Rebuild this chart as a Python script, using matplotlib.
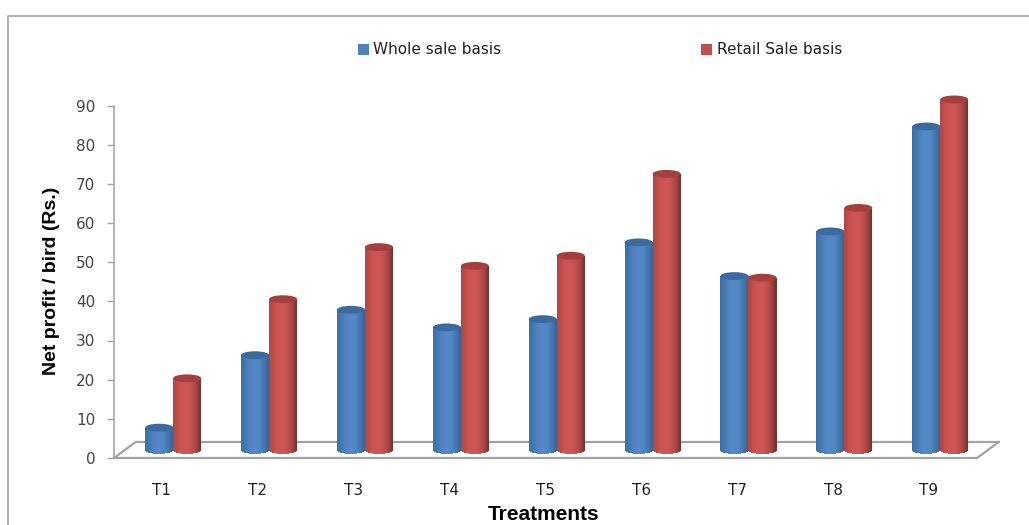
import numpy as np
import matplotlib
matplotlib.use('Agg')
import matplotlib.pyplot as plt
from matplotlib.patches import Ellipse, Patch
from matplotlib.lines import Line2D

# values
treatments = ['T1', 'T2', 'T3', 'T4', 'T5', 'T6', 'T7', 'T8', 'T9']
whole_sale = [5.7, 24.2, 35.8, 31.3, 33.4, 53, 44.4, 55.8, 82.6]
retail_sale = [18.3, 38.5, 51.8, 47, 49.6, 70.5, 44, 61.8, 89.5]
y_ticks = [0, 10, 20, 30, 40, 50, 60, 70, 80, 90]

W, H = 1029, 525
GRAY = '#a3a3a3'

# 3d look, in data units
base = 2.05      # floor centre line above the axis
shift = 0.117    # bars sit in the middle of the floor depth
bar_w = 0.292
cap_h = 2.0
depth_x = 22 / 95.9
depth_y = 4.15

blue_shades = ['#3f6da3', '#4779b4', '#4f84c1', '#5589c7', '#5086c4', '#4577ae', '#38659a']
red_shades = ['#b04745', '#c24f4d', '#cc5655', '#cd5755', '#c4504e', '#a84543', '#7a3230']


def shade(colors, n):
    pos = np.linspace(0, 1, len(colors))
    rgb = np.array([matplotlib.colors.to_rgb(c) for c in colors])
    t = np.linspace(0, 1, n)
    return np.column_stack([np.interp(t, pos, rgb[:, i]) for i in range(3)])


def cylinder(ax, x, value, colors, cap_color):
    n = 28
    edges = np.linspace(x - bar_w / 2, x + bar_w / 2, n + 1)
    mids = (edges[:-1] + edges[1:]) / 2
    shades = shade(colors, n)
    t = (mids - x) / (bar_w / 2)
    bottoms = base - cap_h / 2 * np.sqrt(1 - t ** 2)
    tops = base + value
    ax.bar(mids, tops - bottoms, bottom=bottoms, width=bar_w / n * 1.15,
           color=shades, linewidth=0, zorder=3, clip_on=False)
    cap = Ellipse((x, tops), bar_w, cap_h, facecolor=cap_color, edgecolor='none', zorder=4, clip_on=False)
    ax.add_patch(cap)


fig = plt.figure(figsize=(W / 100, H / 100), dpi=100)
ax = fig.add_axes([114 / W, 1 - 458 / H, 863 / W, 352.5 / H])
x = np.arange(len(treatments))

ax.set_xlim(-0.5, 8.5)
ax.set_ylim(0, 90)
for s in ['top', 'right', 'bottom']:
    ax.spines[s].set_visible(False)
ax.spines['left'].set_color(GRAY)
ax.spines['left'].set_linewidth(1.1)

# floor of the 3d chart
floor = dict(color=GRAY, lw=1.6, clip_on=False, zorder=1, solid_capstyle='round')
ax.plot([-0.5, 8.5], [0, 0], **floor)
ax.plot([-0.5 + depth_x, 8.5 + depth_x], [depth_y, depth_y], **floor)
ax.plot([-0.5, -0.5 + depth_x], [0, depth_y], **floor)
ax.plot([8.5, 8.5 + depth_x], [0, depth_y], **floor)

for i in x:
    cylinder(ax, i + shift - bar_w / 2, whole_sale[i], blue_shades, '#3b6a9f')
    cylinder(ax, i + shift + bar_w / 2, retail_sale[i], red_shades, '#a43f3d')

ax.set_xticks(x)
ax.set_xticklabels(treatments, fontsize=11, color='#222222')
ax.tick_params(axis='x', length=0, pad=18)
ax.set_yticks(y_ticks)
ax.tick_params(axis='y', length=5, width=1, color=GRAY, pad=8.5, labelsize=11, labelcolor='#444444')

fig.text(52 / W, 1 - 281 / H, 'Net profit / bird (Rs.)', rotation=90, ha='center', va='center',
         family='Liberation Sans', fontweight='bold', fontsize=14)
fig.text(544 / W, 1 - 515 / H, 'Treatments', ha='center', va='center',
         family='Liberation Sans', fontweight='bold', fontsize=15)

handles = [Patch(facecolor='#4f81bd', label='Whole sale basis'),
           Patch(facecolor='#c0504d', label='Retail Sale basis')]
fig.legend(handles=handles, loc='center', bbox_to_anchor=(600 / W, 1 - 50 / H), ncol=2, frameon=False,
           fontsize=11, handlelength=0.72, handleheight=0.72, handletextpad=0.3, columnspacing=13.1,
           labelcolor='#222222', borderpad=0)

# outer frame, only left and top are in the crop
fig.add_artist(Line2D([7.5 / W, 7.5 / W, 1], [0, 1 - 15.5 / H, 1 - 15.5 / H], color=GRAY, lw=1.2))

fig.savefig('out.png', dpi=100)
